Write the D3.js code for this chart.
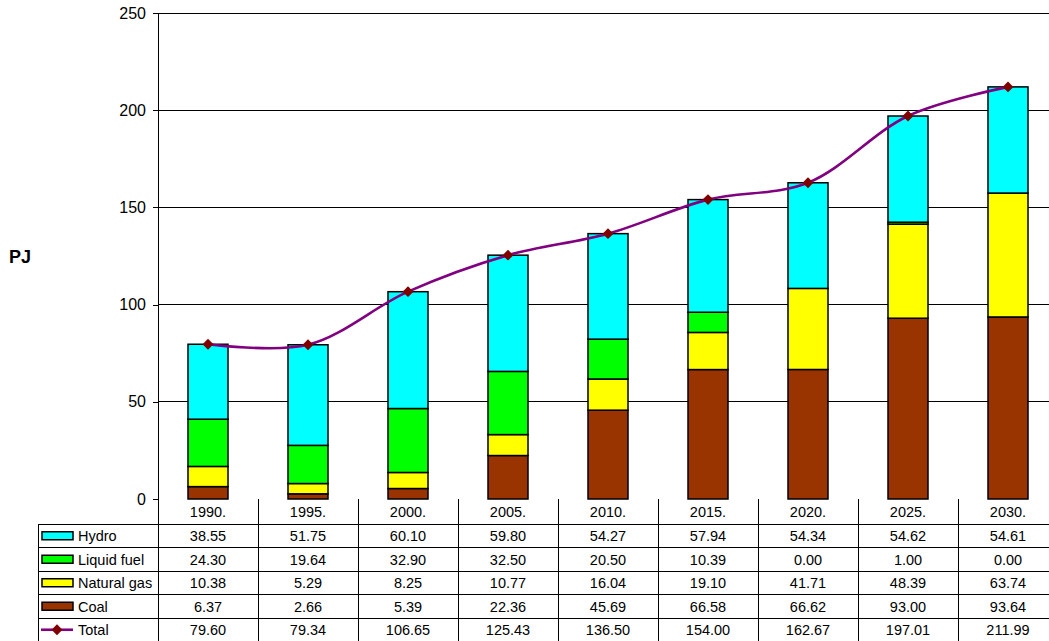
<!DOCTYPE html>
<html>
<head>
<meta charset="utf-8">
<script src="https://cdn.jsdelivr.net/npm/d3@7"></script>
<style>
  html, body { margin: 0; padding: 0; background: #fff; overflow: hidden; }
  svg text { font-family: Arial, "Liberation Sans", sans-serif; }
</style>
</head>
<body>
<svg id="chart" width="1049" height="641"></svg>
<script>
// Energy supply by source, PJ
const years = ["1990.", "1995.", "2000.", "2005.", "2010.", "2015.", "2020.", "2025.", "2030."];
const hydro = [38.55, 51.75, 60.10, 59.80, 54.27, 57.94, 54.34, 54.62, 54.61];
const liquidFuel = [24.30, 19.64, 32.90, 32.50, 20.50, 10.39, 0.00, 1.00, 0.00];
const naturalGas = [10.38, 5.29, 8.25, 10.77, 16.04, 19.10, 41.71, 48.39, 63.74];
const coal = [6.37, 2.66, 5.39, 22.36, 45.69, 66.58, 66.62, 93.00, 93.64];
const total = [79.60, 79.34, 106.65, 125.43, 136.50, 154.00, 162.67, 197.01, 211.99];
const yTicks = [0, 50, 100, 150, 200, 250];

const seriesNames = ["Coal", "Natural gas", "Liquid fuel", "Hydro"];
const seriesColors = { "Hydro": "#00FFFF", "Liquid fuel": "#00FF00", "Natural gas": "#FFFF00", "Coal": "#993300" };
const tableRows = [
  { name: "Hydro", values: hydro },
  { name: "Liquid fuel", values: liquidFuel },
  { name: "Natural gas", values: naturalGas },
  { name: "Coal", values: coal },
  { name: "Total", values: total }
];

const rows = years.map((yr, i) => ({
  year: yr,
  "Coal": coal[i], "Natural gas": naturalGas[i], "Liquid fuel": liquidFuel[i], "Hydro": hydro[i],
  total: total[i]
}));

const svg = d3.select("#chart");
const plotLeft = 158, plotRight = 1058, plotTop = 13, plotBottom = 499;
const tableLeft = 38;
const rowTops = [524, 547.5, 571, 594.5, 618, 641.5];
const tableFont = 14.5;

const xCol = d3.scaleBand().domain(years).range([plotLeft, plotRight]).padding(0);
const xBar = d3.scaleBand().domain(years).range([plotLeft, plotRight]).paddingInner(0.6).paddingOuter(0.3);
const y = d3.scaleLinear().domain([0, 250]).range([plotBottom, plotTop]);

// horizontal gridlines
svg.append("g").selectAll("line").data(yTicks.filter(t => t > 0)).join("line")
  .attr("x1", plotLeft).attr("x2", plotRight)
  .attr("y1", d => y(d)).attr("y2", d => y(d))
  .attr("stroke", "#000").attr("stroke-width", 1).attr("shape-rendering", "crispEdges");

// y axis
const yAxis = svg.append("g").attr("transform", `translate(${plotLeft},0)`)
  .call(d3.axisLeft(y).tickValues(yTicks).tickSize(5).tickPadding(7).tickFormat(d3.format("d")));
yAxis.select(".domain").attr("stroke", "#000").attr("stroke-width", 1).attr("shape-rendering", "crispEdges");
yAxis.selectAll(".tick line").attr("stroke", "#000").attr("shape-rendering", "crispEdges");
yAxis.selectAll(".tick text").attr("font-size", 16).attr("fill", "#000")
  .attr("font-family", "Arial, 'Liberation Sans', sans-serif");

svg.append("text").attr("x", 9).attr("y", 263).text("PJ")
  .attr("font-size", 18).attr("font-weight", "bold").attr("fill", "#000");

// stacked bars
const stacked = d3.stack().keys(seriesNames)(rows);
svg.append("g").selectAll("g").data(stacked).join("g")
  .attr("fill", d => seriesColors[d.key])
  .selectAll("rect").data(d => d).join("rect")
  .attr("x", d => xBar(d.data.year))
  .attr("width", xBar.bandwidth())
  .attr("y", d => y(d[1]))
  .attr("height", d => y(d[0]) - y(d[1]))
  .attr("stroke", "#000").attr("stroke-width", 1.5);

// total line (smoothed) with diamond markers
const cx = d => xCol(d.year) + xCol.bandwidth() / 2;
const line = d3.line().x(cx).y(d => y(d.total)).curve(d3.curveCatmullRom.alpha(0.5));
svg.append("path").datum(rows).attr("d", line)
  .attr("fill", "none").attr("stroke", "#800080").attr("stroke-width", 2.6);
const diamond = d3.symbol().type(d3.symbolDiamond2).size(75);
svg.append("g").selectAll("path").data(rows).join("path")
  .attr("transform", d => `translate(${cx(d)},${y(d.total)})`)
  .attr("d", diamond).attr("fill", "#800000");

// data table
const tbl = svg.append("g");
const gridStroke = "#000";
// horizontal lines
rowTops.slice(0, 5).forEach(t => {
  tbl.append("line").attr("x1", tableLeft).attr("x2", plotRight).attr("y1", t).attr("y2", t)
    .attr("stroke", gridStroke).attr("stroke-width", 1).attr("shape-rendering", "crispEdges");
});
// left border of the label column
tbl.append("line").attr("x1", tableLeft).attr("x2", tableLeft).attr("y1", rowTops[0]).attr("y2", 641)
  .attr("stroke", gridStroke).attr("shape-rendering", "crispEdges");
// column separators
tbl.selectAll("line.col").data(years).join("line").attr("class", "col")
  .attr("x1", d => xCol(d)).attr("x2", d => xCol(d))
  .attr("y1", plotBottom).attr("y2", 641)
  .attr("stroke", gridStroke).attr("shape-rendering", "crispEdges");
// header
tbl.selectAll("text.hdr").data(years).join("text").attr("class", "hdr")
  .attr("x", d => xCol(d) + xCol.bandwidth() / 2).attr("y", 517)
  .attr("text-anchor", "middle").attr("font-size", tableFont).attr("fill", "#000").text(d => d);
// rows
tableRows.forEach((r, ri) => {
  const mid = (rowTops[ri] + rowTops[ri + 1]) / 2;
  tbl.selectAll(`text.v${ri}`).data(r.values).join("text").attr("class", `v${ri}`)
    .attr("x", (d, i) => xCol(years[i]) + xCol.bandwidth() / 2).attr("y", mid + 5.5)
    .attr("text-anchor", "middle").attr("font-size", tableFont).attr("fill", "#000")
    .text(d => d3.format(".2f")(d));
  tbl.append("text").attr("x", 78).attr("y", mid + 5.5).attr("font-size", tableFont).attr("fill", "#000").text(r.name);
  if (r.name === "Total") {
    tbl.append("line").attr("x1", 41).attr("x2", 73).attr("y1", mid).attr("y2", mid)
      .attr("stroke", "#800080").attr("stroke-width", 2.6);
    tbl.append("path").attr("transform", `translate(57,${mid})`).attr("d", diamond).attr("fill", "#800000");
  } else {
    tbl.append("rect").attr("x", 42).attr("y", mid - 4).attr("width", 31).attr("height", 8)
      .attr("fill", seriesColors[r.name]).attr("stroke", "#000").attr("stroke-width", 1.5);
  }
});
</script>
</body>
</html>
